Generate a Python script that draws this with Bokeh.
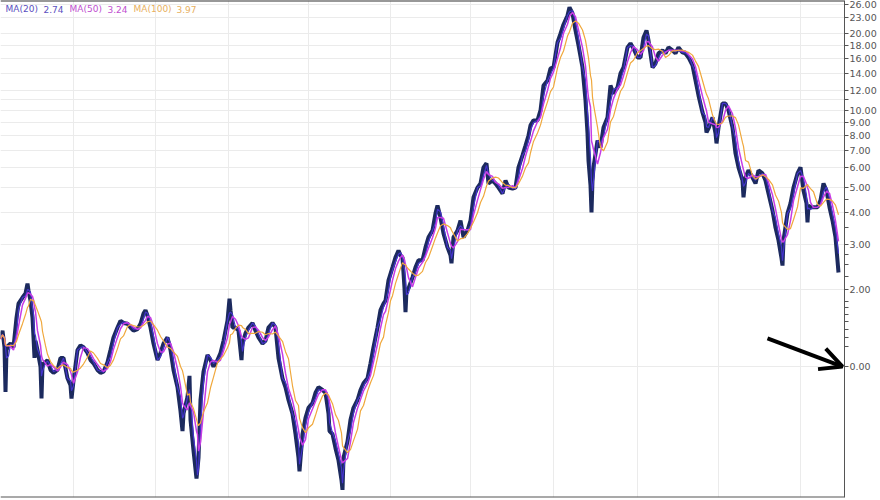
import numpy as np
from bokeh.plotting import figure
from bokeh.models import FixedTicker, PrintfTickFormatter, Span, Label, Arrow, OpenHead
from bokeh.embed import file_html
from bokeh.resources import INLINE

# ---- data (time index, close price) ----
t = [0, 2, 4, 5, 6, 8, 10, 13, 16, 18,
     22, 25, 27, 28, 30, 32, 33, 34, 35, 37,
     40, 41, 42, 45, 47, 50, 53, 57, 60, 63,
     67, 70, 71, 73, 77, 80, 83, 87, 90, 93,
     97, 100, 103, 107, 110, 113, 117, 120, 123, 127,
     130, 133, 137, 140, 143, 145, 147, 150, 153, 157,
     160, 163, 167, 170, 173, 177, 180, 182, 183, 187,
     189, 190, 193, 196, 197, 198, 200, 203, 207, 210,
     213, 217, 220, 223, 227, 229, 230, 232, 235, 238,
     241, 242, 245, 248, 252, 255, 258, 262, 265, 268,
     272, 275, 278, 282, 285, 288, 292, 295, 298, 299,
     302, 305, 308, 312, 315, 318, 322, 325, 328, 329,
     332, 335, 338, 341, 342, 343, 347, 350, 353, 357,
     360, 363, 367, 370, 373, 377, 380, 383, 385, 388,
     390, 392, 395, 398, 400, 402, 404, 405, 406, 408,
     412, 415, 418, 422, 425, 428, 432, 435, 437, 440,
     443, 447, 450, 451, 453, 457, 460, 463, 467, 470,
     473, 477, 480, 483, 486, 488, 492, 495, 498, 502,
     505, 508, 512, 515, 518, 522, 525, 528, 530, 533,
     537, 540, 543, 547, 550, 553, 557, 560, 563, 567,
     569, 572, 575, 578, 582, 585, 587, 588, 590, 591,
     592, 593, 597, 600, 603, 607, 610, 613, 617, 620,
     623, 627, 630, 633, 637, 640, 643, 646, 648, 652,
     655, 658, 662, 665, 668, 672, 675, 678, 682, 685,
     688, 692, 695, 698, 702, 705, 706, 708, 712, 715,
     716, 718, 722, 725, 728, 732, 735, 738, 742, 743,
     745, 748, 752, 755, 758, 762, 765, 768, 772, 775,
     778, 781, 782, 783, 787, 790, 793, 797, 800, 803,
     806, 807, 808, 810, 813, 817, 820, 823, 826, 829,
     832, 835, 838]

price = [1.28, 1.38, 1.19, 0.795, 1.16, 1.21, 1.23, 1.19, 1.55, 1.76,
         1.86, 1.93, 2.11, 1.98, 1.81, 1.55, 1.30, 1.08, 1.26, 1.16,
         1.00, 0.75, 1.02, 1.04, 1.06, 0.97, 0.945, 0.97, 1.08, 1.08,
         0.90, 0.845, 0.75, 0.88, 1.16, 1.21, 1.19, 1.13, 1.06, 1.03,
         0.97, 0.945, 0.955, 1.04, 1.16, 1.30, 1.42, 1.51, 1.48, 1.47,
         1.42, 1.38, 1.40, 1.47, 1.61, 1.66, 1.58, 1.42, 1.23, 1.06,
         1.13, 1.23, 1.30, 1.16, 0.97, 0.83, 0.67, 0.56, 0.655, 0.76,
         0.92, 0.62, 0.47, 0.365, 0.40, 0.44, 0.74, 0.955, 1.11, 1.06,
         1.00, 1.06, 1.13, 1.26, 1.51, 1.84, 1.66, 1.42, 1.42, 1.38,
         1.06, 1.23, 1.35, 1.42, 1.48, 1.38, 1.30, 1.23, 1.26, 1.42,
         1.48, 1.42, 1.08, 0.90, 0.83, 0.74, 0.655, 0.545, 0.44, 0.39,
         0.545, 0.63, 0.69, 0.72, 0.79, 0.83, 0.81, 0.79, 0.655, 0.56,
         0.545, 0.48, 0.43, 0.36, 0.33, 0.44, 0.51, 0.62, 0.69, 0.74,
         0.81, 0.86, 0.90, 1.03, 1.19, 1.42, 1.66, 1.76, 1.81, 2.17,
         2.30, 2.44, 2.67, 2.84, 2.72, 2.67, 2.02, 1.63, 1.98, 2.02,
         2.23, 2.44, 2.60, 2.60, 2.92, 3.20, 3.40, 3.97, 4.26, 3.82,
         3.31, 2.92, 2.72, 2.53, 3.20, 3.40, 3.72, 3.20, 3.40, 3.72,
         4.58, 5.00, 5.19, 6.00, 6.22, 5.19, 5.33, 5.19, 5.00, 4.74,
         5.33, 5.00, 4.96, 5.00, 6.00, 6.68, 7.30, 7.99, 8.75, 9.15,
         9.15, 10.01, 12.53, 13.11, 14.60, 14.73, 18.44, 19.96, 21.68, 23.51,
         25.30, 23.94, 20.55, 17.96, 14.73, 10.95, 8.14, 6.38, 5.10, 4.00,
         5.33, 6.00, 7.64, 7.17, 8.59, 9.40, 12.53, 11.66, 12.31, 13.96,
         14.73, 17.64, 18.29, 17.48, 16.12, 16.12, 19.29, 20.55, 18.78, 14.73,
         15.27, 16.71, 17.17, 16.71, 17.64, 17.17, 16.71, 17.64, 16.86, 16.71,
         16.12, 15.00, 13.11, 11.45, 9.83, 8.99, 8.21, 8.51, 9.40, 8.14,
         7.44, 8.59, 10.66, 10.66, 10.01, 8.59, 6.80, 6.00, 5.33, 4.58,
         5.47, 5.84, 5.47, 5.19, 5.84, 5.68, 5.33, 4.74, 4.07, 3.49,
         3.11, 2.65, 2.48, 3.11, 3.97, 4.34, 5.00, 5.68, 6.00, 4.87,
         4.34, 3.66, 4.26, 4.19, 4.19, 4.19, 4.46, 5.19, 4.87, 4.19,
         3.72, 3.20, 2.33]

ma_periods = [20, 50, 100]
ma_windows = [4, 9, 17]          # window length of each MA in time-index units
ma_last_values = [2.74, 3.24, 3.97]
ma_colors = ["#4434cc", "#c83ce6", "#f0a83c"]
ma_text_colors = ["#5a4fc0", "#c050d0", "#e8b060"]

y_ticks = [1, 2, 3, 4, 5, 6, 7, 8, 9, 10, 11, 12, 14, 16, 18, 20, 23, 26]
y_minor = [1.2, 1.3, 1.4, 1.5, 1.6, 1.7, 1.8, 2.25, 2.5, 2.75, 3.5, 4.5]
y_overrides = {1: "0.00", 11: ""}
time_grid = [73, 155, 228, 308, 390, 470, 553, 637, 718, 800]

assert len(t) == len(price)

tt = np.array(t, dtype=float)
pp = np.array(price, dtype=float)
gaps = np.diff(tt)
wts = np.empty_like(tt)
wts[0] = gaps[0]
wts[-1] = gaps[-1]
wts[1:-1] = (gaps[:-1] + gaps[1:]) / 2.0


def sma(win):
    out = np.empty_like(pp)
    for i in range(len(tt)):
        m = (tt > tt[i] - win) & (tt <= tt[i])
        out[i] = np.sum(pp[m] * wts[m]) / np.sum(wts[m])
    return out


mas = [sma(w) for w in ma_windows]

Y0, Y1 = 0.308, 26.9
p = figure(width=880, height=500, x_range=(0, 844), y_range=(Y0, Y1),
           y_axis_type="log", y_axis_location="right",
           output_backend="svg", toolbar_location=None,
           min_border_left=0, min_border_right=36, min_border_top=0, min_border_bottom=3)
p.xaxis.visible = False
p.outline_line_color = None
p.background_fill_color = "white"
p.border_fill_color = "white"

ax = p.yaxis[0]
ax.ticker = FixedTicker(ticks=y_ticks, minor_ticks=y_minor)
ax.formatter = PrintfTickFormatter(format="%.2f")
ax.major_label_overrides = y_overrides
ax.major_label_text_font = "DejaVu Sans"
ax.major_label_text_font_size = "9.5px"
ax.major_label_text_color = "#555555"
ax.major_label_standoff = 1
ax.axis_line_color = "#555555"
ax.major_tick_line_color = "#555555"
ax.minor_tick_line_color = "#555555"
ax.major_tick_out = 4
ax.major_tick_in = 0
ax.minor_tick_out = 4
ax.minor_tick_in = 0

p.ygrid.ticker = FixedTicker(ticks=y_ticks)
p.ygrid.grid_line_color = "#ebebeb"
p.xgrid.ticker = FixedTicker(ticks=time_grid)
p.xgrid.grid_line_color = "#ebebeb"

p.line(t, price, line_color="#1c2a5e", line_width=4, line_join="bevel")
for ma, c, lw in zip(mas, ma_colors, [1.2, 1.5, 1.2]):
    p.line(t, ma, line_color=c, line_width=lw)

p.add_layout(Span(location=Y1, dimension="width", line_color="#333333", line_width=2))
p.add_layout(Span(location=Y0, dimension="width", line_color="#555555", line_width=2))

# legend text
lx = [5, 43, 69, 107, 133, 176]
texts = []
for per, val in zip(ma_periods, ma_last_values):
    texts.append("MA(%d)" % per)
    texts.append("%.2f" % val)
cols = []
for c in ma_text_colors:
    cols += [c, c]
for x0, s, c in zip(lx, texts, cols):
    p.add_layout(Label(x=x0, y=24.9, text=s, text_color=c, text_font_size="9px",
                       text_font="DejaVu Sans", text_baseline="middle"))

p.add_layout(Arrow(end=OpenHead(size=22, line_width=4, line_color="black"),
                   x_start=767, y_start=1.288, x_end=842, y_end=1.0,
                   line_width=4, line_color="black"))

open("out.html", "w").write(file_html(p, INLINE))
